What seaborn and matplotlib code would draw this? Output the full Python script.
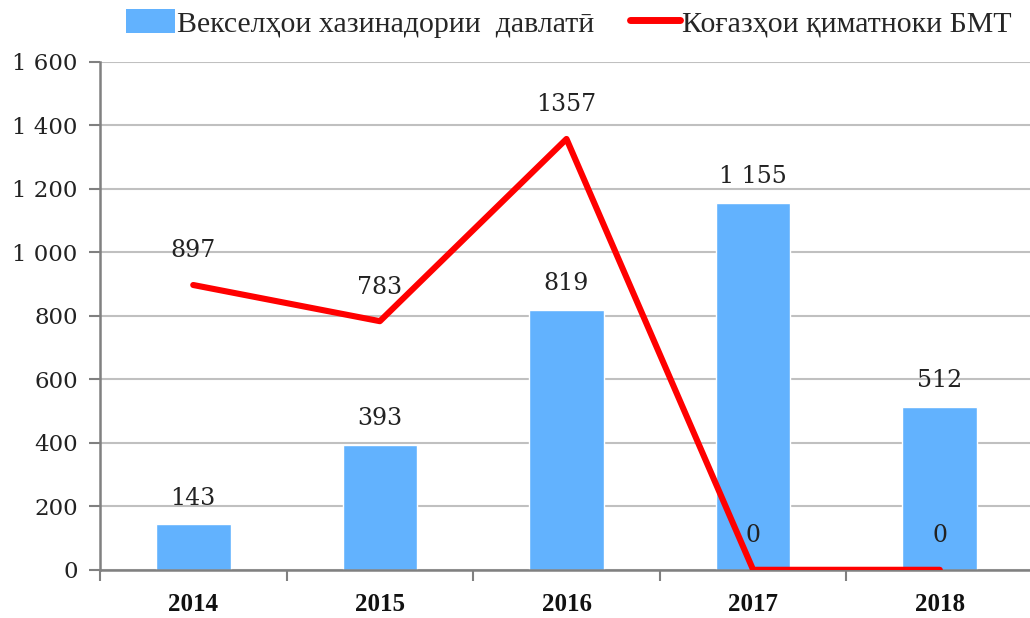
import matplotlib
matplotlib.use("Agg")
import matplotlib.pyplot as plt
import seaborn as sns
import pandas as pd
from matplotlib.patches import Patch
from matplotlib.lines import Line2D

years = ["2014", "2015", "2016", "2017", "2018"]
bills = [143, 393, 819, 1155, 512]
securities = [897, 783, 1357, 0, 0]
bill_labels = ["143", "393", "819", "1 155", "512"]
sec_labels = ["897", "783", "1357", "0", "0"]
yticks = [0, 200, 400, 600, 800, 1000, 1200, 1400, 1600]
ytick_labels = ["0", "200", "400", "600", "800", "1 000", "1 200", "1 400", "1 600"]
legend_names = ["Векселҳои хазинадории  давлатӣ", "Коғазҳои қиматноки БМТ"]

sns.set_theme(style="white")
plt.rcParams["font.family"] = ["DejaVu Serif", "Liberation Serif"]

bar_color = "#62b2fe"
line_color = "#ff0000"

df = pd.DataFrame({"year": years, "bills": bills, "sec": securities})

fig = plt.figure(figsize=(10.3, 6.18), dpi=100)
ax = fig.add_axes([0.097, 0.078, 0.906, 0.822])

sns.barplot(data=df, x="year", y="bills", color=bar_color, width=0.4,
            saturation=1, ax=ax, zorder=2)
sns.lineplot(data=df, x="year", y="sec", color=line_color, linewidth=4.4,
             sort=False, ax=ax, zorder=3)

ax.set_xlim(-0.5, 4.5)
ax.set_ylim(0, 1600)
ax.set_yticks(yticks)
ax.set_yticklabels(ytick_labels, fontsize=16.5, color="#222222")
ax.set_xlabel("")
ax.set_ylabel("")

# x: major ticks at boundaries, labels at centers
ax.set_xticks([i - 0.5 for i in range(len(years) + 1)])
ax.set_xticklabels([""] * (len(years) + 1))
ax.set_xticks(range(len(years)), minor=True)
ax.set_xticklabels(years, minor=True, fontsize=18, fontweight="bold",
                   family=["Liberation Serif"], color="#111111")
ax.tick_params(axis="x", which="major", direction="out", length=8, width=1.5,
               color="#808080", bottom=True)
ax.tick_params(axis="x", which="minor", length=0, pad=17)
ax.tick_params(axis="y", direction="out", length=8, width=1.5, color="#808080",
               left=True, pad=8)

ax.grid(axis="y", color="#c0c0c0", linewidth=1.5, zorder=0)
ax.set_axisbelow(True)
for s in ["top", "right"]:
    ax.spines[s].set_visible(False)
for s in ["left", "bottom"]:
    ax.spines[s].set_color("#808080")
    ax.spines[s].set_linewidth(1.8)

for i, (v, lab) in enumerate(zip(bills, bill_labels)):
    ax.annotate(lab, (i, v), xytext=(0, 19), textcoords="offset points",
                ha="center", va="center", fontsize=17, color="#222222", zorder=5)
for i, (v, lab) in enumerate(zip(securities, sec_labels)):
    ax.annotate(lab, (i, v), xytext=(0, 24.5), textcoords="offset points",
                ha="center", va="center", fontsize=17, color="#222222", zorder=5)

handles = [Patch(facecolor=bar_color, edgecolor="none"),
           Line2D([0], [0], color=line_color, linewidth=5)]
fig.legend(handles, legend_names, loc="center", bbox_to_anchor=(0.552, 0.962),
           ncol=2, frameon=False, prop={"family": "Liberation Serif", "size": 21.5},
           handlelength=1.65, handletextpad=0.07, columnspacing=1.2,
           handleheight=0.85, borderpad=0.2)

fig.savefig("out.png", dpi=100)
